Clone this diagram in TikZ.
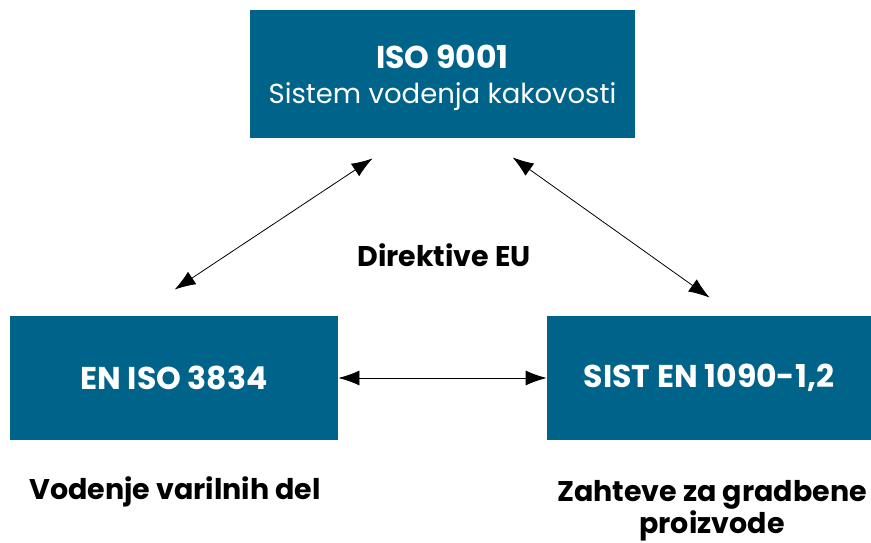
\documentclass[tikz,border=0pt]{standalone}
\usepackage{fontspec}
\setmainfont{Poppins}
\usetikzlibrary{positioning,arrows.meta}
\definecolor{normblue}{HTML}{00638A}
\begin{document}
\begin{tikzpicture}[x=1pt,y=1pt,<->,>={Latex[length=21pt,width=15pt]},line width=0.8pt,
		box/.style={fill=normblue,text=white,inner sep=0pt,font=\fontsize{31.5}{32}\selectfont\bfseries},
		caption/.style={font=\fontsize{28.5}{32}\selectfont\bfseries,align=center}]
	\useasboundingbox (0,0) rectangle (871,543);
	\node[box,minimum width=385pt,minimum height=128pt,align=center,text depth=0pt] (iso) at (442.5,469)
		{ISO 9001\\[3pt]{\fontsize{27.5}{32}\selectfont\mdseries Sistem vodenja kakovosti}};
	\node[box,minimum width=328pt,minimum height=124pt] (en) at (174,165) {EN ISO 3834};
	\node[box,minimum width=324pt,minimum height=124pt] (sist) at (709,165) {SIST EN 1090-1,2};
	\node[caption] (dir) at (444,288) {Direktive EU};
	\node[caption] (ven) at (175,51) {Vodenje varilnih del};
	\node[caption] (zah) at (712,32) {Zahteve za gradbene\\proizvode};
	% povezave
	\coordinate (isoL) at ([xshift=123pt,yshift=-20pt]iso.south west);
	\coordinate (isoR) at ([xshift=263pt,yshift=-19pt]iso.south west);
	\coordinate (enT) at ([xshift=165pt,yshift=26pt]en.north west);
	\coordinate (sistT) at ([xshift=163pt,yshift=18pt]sist.north west);
	\draw (isoL) -- (enT);
	\draw (isoR) -- (sistT);
	\draw (en) -- (sist);
\end{tikzpicture}
\end{document}
